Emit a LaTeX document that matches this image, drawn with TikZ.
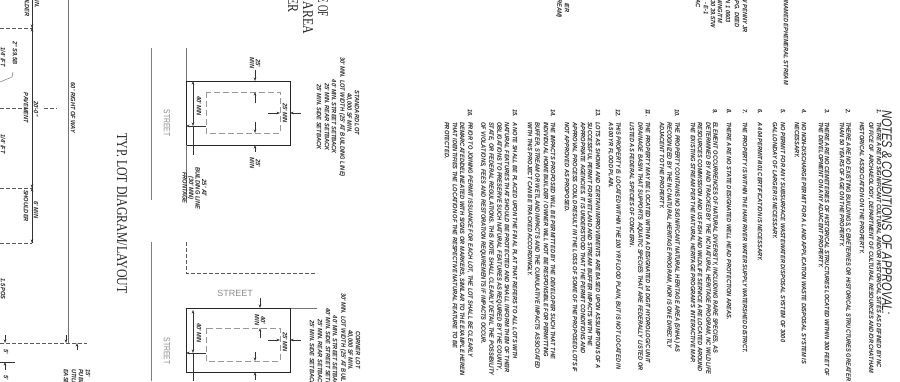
\documentclass[tikz,border=0pt]{standalone}
\usepackage{graphicx}
\usepackage{fontspec}
\setmainfont{Liberation Serif}
\newfontfamily\sansf{Liberation Sans}
\usetikzlibrary{arrows.meta}
\newcommand{\smalltxt}[1]{\scalebox{.9}[1]{\fontsize{6.3}{7.7}\selectfont\sansf\bfseries\itshape #1}}
\newcommand{\nl}[3]{\node[notetext] (#1) at (#2,122) {\smalltxt{#3}};}
\newcommand{\num}[3]{\node[notetext] (#1) at (#2,109) {\smalltxt{#3}};}
\newcommand{\tl}[4]{\node[toptext] (#1) at (#2,#3) {\smalltxt{#4}};}
\newcommand{\cl}[4]{\node[ctext] (#1) at (#2,#3) {\smalltxt{#4}};}
\newcommand{\bigt}[1]{\scalebox{.79}[1]{\fontsize{15}{15}\selectfont #1}}
\tikzset{
 x=1pt,y=-1pt,
 notetext/.style={rotate=-90,anchor=west,inner sep=0pt,text=black!85},
 toptext/.style={rotate=-90,anchor=east,inner sep=0pt,text=black!85},
 ctext/.style={rotate=-90,anchor=center,inner sep=0pt,text=black!85},
 largetext/.style={rotate=-90,inner sep=0pt,text=black!85},
 streettext/.style={inner sep=0pt,text=black!45},
 guide/.style={draw=black!55,line width=.55pt},
 lotline/.style={draw=black!85,line width=.9pt},
 bldg/.style={draw=black!40,line width=.5pt,dash pattern=on 6pt off 3pt},
 cut/.style={draw=black!65,line width=.5pt,dash pattern=on 4pt off 2pt},
 dim/.style={draw=black!80,line width=.45pt,-{Stealth[length=3.5pt,width=2.5pt]}},
}
\begin{document}
\begin{tikzpicture}
\useasboundingbox (0,0) rectangle (900,381);
\clip (0,0) rectangle (900,381);
\fill[white] (0,0) rectangle (900,381);
% ---- top fragments
\tl{t1}{745}{33}{DEED NEW PENNY JR}
\tl{t2}{737}{28}{BOOK 175 PG. DEED}
\tl{t3}{728}{23}{PIN 1 0603}
\tl{t4}{720}{23}{ZONING/TM}
\tl{t5}{713}{28}{N 30 39.57W}
\tl{t6}{706}{15}{- E-1}
\tl{t7}{698}{8}{AC}
\tl{t8}{786}{85}{UNNAMED EPHEMERAL STREAM}
\tl{t9}{567}{13}{IER}
\tl{t10}{559}{18}{TREAM)}
% ---- notes
\node[rotate=-90,anchor=west,inner sep=0pt,text=black!85] (title) at (887,110)
  {\scalebox{.79}[1]{\fontsize{14}{14}\selectfont\sansf\itshape NOTES \& CONDITIONS OF APPROVAL:}};
\num{n1}{879}{1.}
\nl{a1}{879}{THERE ARE NO SIGNIFICANT CULTURAL AND/OR HISTORICAL SITES AS DEFINED BY NC}
\nl{a2}{871}{OFFICE OF ARCHAEOLOGY, DEPARTMENT OF CULTURAL RESOURCES AND/OR CHATHAM}
\nl{a3}{862}{HISTORICAL ASSOCIATION ON THE PROPERTY.}
\num{n2}{848}{2.}
\nl{b1}{848}{THERE ARE NO EXISTING BUILDINGS, CEMETERIES OR HISTORICAL STRUCTURES GREATER}
\nl{b2}{842}{THAN 50 YEARS OF AGE ON THE PROPERTY.}
\num{n3}{827}{3.}
\nl{c1}{827}{THERE ARE NO CEMETERIES OF HISTORICAL STRUCTURES LOCATED WITHIN 300 FEET OF}
\nl{c2}{821}{THE DEVELOPMENT ON ANY ADJACENT PROPERTY.}
\num{n4}{804}{4.}
\nl{d1}{804}{NO NON-DISCHARGE PERMIT FOR A LAND APPLICATION WASTE DISPOSAL SYSTEM IS}
\nl{d2}{797}{NECESSARY.}
\num{n5}{783}{5.}
\nl{e1}{783}{NO PERMIT FOR ANY SUBSURFACE WASTEWATER DISPOSAL SYSTEM OF 3000}
\nl{e2}{775}{GALLON/DAY OF LARGER IS NECESSARY.}
\num{n6}{760}{6.}
\nl{f1}{760}{A 404 PERMIT/401 CERTIFICATION IS NECESSARY.}
\num{n7}{745}{7.}
\nl{g1}{745}{THE PROPERTY IS WITHIN THE HAW RIVER WATER SUPPLY WATERSHED DISTRICT.}
\num{n8}{729}{8.}
\nl{h1b}{729}{THERE ARE NO STATE DESIGNATED WELL HEAD PROTECTION AREAS.}
\num{n9}{715}{9.}
\nl{i1}{715}{ELEMENT OCCURRENCES OF NATURAL DIVERSITY, INCLUDING RARE SPECIES, AS}
\nl{i2}{708}{DETERMINED BY AND TRACKED BY THE NC NATURAL HERITAGE PROGRAM, NC WILDLIFE}
\nl{i3}{700}{RESOURCES COMMISSION AND US FISH AND WILDLIFE SERVICE ARE LOCATED AROUND}
\nl{i4}{693}{THE EXISTING STREAM PER THE NATURAL HERITAGE PROGRAM'S INTERACTIVE MAP.}
\num{n10}{677}{10.}
\nl{j1}{677}{THE PROPERTY CONTAINS NO SIGNIFICANT NATURAL HERITAGE AREA (SNHA) AS}
\nl{j2}{669}{RECOGNIZED BY THE NC NATURAL HERITAGE PROGRAM, NOR IS ONE DIRECTLY}
\nl{j3}{662}{ADJACENT TO THE PROPERTY.}
\num{n11}{648}{11.}
\nl{k1}{648}{THE PROPERTY MAY BE LOCATED WITHIN A DESIGNATED 14 DIGIT HYDROLOGIC UNIT}
\nl{k2}{640}{DRAINAGE BASIN THAT SUPPORTS AQUATIC SPECIES THAT ARE FEDERALLY LISTED OR}
\nl{k3}{632}{LISTED AS FEDERAL SPECIES OF CONCERN.}
\num{n12}{618}{12.}
\nl{l1}{618}{THIS PROPERTY IS LOCATED WITHIN THE 100 YR FLOOD PLAIN, BUT IS NOT LOCATED IN}
\nl{l2}{611}{A 500 YR FLOOD PLAIN.}
\num{n13}{598}{13.}
\nl{m1}{598}{LOTS AS SHOWN AND CERTAIN IMPROVEMENTS ARE BASED UPON ASSUMPTIONS OF A}
\nl{m2}{590}{SUCCESSFUL PERMIT FOR WETLAND AND STREAM BUFFER IMPACTS WITH THE}
\nl{m3}{583}{APPROPRIATE AGENCIES. IT IS UNDERSTOOD THAT THE PERMIT CONDITIONS AND}
\nl{m4}{575}{APPROVAL PROCESS COULD RESULT IN THE LOSS OF SOME OF THE PROPOSED LOTS IF}
\nl{m5}{567}{NOT APPROVED AS PROPOSED.}
\num{n14}{553}{14.}
\nl{o1}{553}{THE IMPACTS PROPOSED WILL BE PERMITTED BY THE DEVELOPER SUCH THAT THE}
\nl{o2}{546}{INDIVIDUAL HOME BUILDER / OWNER WILL NOT BE RESPONSIBLE FOR PERMITTING}
\nl{o3}{537}{BUFFER, STREAM OR WETLAND IMPACTS AND THE CUMULATIVE IMPACTS ASSOCIATED}
\nl{o4}{530}{WITH THIS PROJECT CAN BE TRACKED ACCORDINGLY.}
\num{n15}{515}{15.}
\nl{p1}{515}{A NOTE SHALL BE PLACED UPON THE FINAL PLAT THAT REFERS TO ALL LOTS WITH}
\nl{p2}{507}{NATURAL FEATURES THAT SHOULD BE PROTECTED AND SHALL INFORM THEM OF THEIR}
\nl{p3}{499}{OBLIGATIONS TO PRESERVE SUCH NATURAL FEATURES AS REQUIRED BY THE COUNTY,}
\nl{p4}{491}{STATE, OR FEDERAL REGULATIONS. THIS NOTE SHALL CLEARLY DETAIL THE POSSIBILITY}
\nl{p5}{483}{OF VIOLATIONS, FEES AND RESTORATION REQUIREMENTS IF IMPACTS OCCUR.}
\num{n16}{470}{16.}
\nl{q1}{470}{PRIOR TO JOINING PERMIT ISSUANCE FOR EACH LOT, THE LOT SHALL BE CLEARLY}
\nl{q2}{462}{DEMARCATED/DELINEATED WITH SIGNS OR MARKERS, SIMILAR TO THE EXAMPLE HEREIN}
\nl{q3}{455}{THAT IDENTIFIES THE LOCATION OF THE RESPECTIVE NATURAL FEATURE TO BE}
\nl{q4}{447}{PROTECTED.}
% ---- lot legends
\cl{s1}{357}{113}{STANDARD LOT}
\cl{s2}{349}{113}{40,000 SF MIN.}
\cl{s3}{342}{117}{30' MIN. LOT WIDTH (25' AT BUILDING LINE)}
\cl{s4}{334}{117}{40' MIN. STREET SETBACK}
\cl{s5}{327}{117}{25' MIN. REAR SETBACK}
\cl{s6}{319}{117}{25' MIN. SIDE SETBACK}
\cl{r1}{358}{350}{CORNER LOT}
\cl{r2}{350}{350}{40,000 SF MIN.}
\cl{r3}{343}{353}{30' MIN. LOT WIDTH (25' AT BUILDING LINE)}
\cl{r4}{335}{353}{40' MIN. STREET SETBACK}
\cl{r5}{328}{353}{40' MIN. SIDE STREET SETBACK}
\cl{r6}{320}{353}{25' MIN. REAR SETBACK}
\cl{r7}{312}{353}{25' MIN. SIDE SETBACK}
% ---- large headings
\node[largetext,anchor=east] (h1) at (323,17) {\scalebox{.6}[1]{\fontsize{15}{15}\selectfont ZONE OF}};
\node[largetext,anchor=east] (h2) at (308,34) {\bigt{AREA}};
\node[largetext,anchor=east] (h3) at (293,13) {\bigt{ER}};
\node[largetext,anchor=west] (h4) at (122,133) {\bigt{TYP. LOT DIAGRAM/LAYOUT}};
% ---- street lines
\draw[draw=black!50,line width=.5pt] (151,48) -- (151,200) (151,242) -- (151,381);
\node[streettext,rotate=-90] (st1) at (167,123) {\scalebox{.75}[1]{\fontsize{9}{9}\selectfont\sansf STREET}};
\node[streettext,rotate=-90] (st2) at (167,351) {\scalebox{.75}[1]{\fontsize{9}{9}\selectfont\sansf STREET}};
\node[streettext] (st3) at (235,293) {\fontsize{9}{9}\selectfont\sansf STREET};
% ---- standard lot
\draw[guide] (186,48) -- (186,81);
\draw[lotline] (186,81) rectangle (290,145);
\draw[guide] (186,145) -- (186,200);
\draw[bldg] (206,92) rectangle (280,133);
\coordinate (sa) at (255,70); \coordinate (sb) at (255,81);
\draw[dim] (sa) -- (sb);
\draw[dim] (255,103) -- (255,92);
\draw[dim] (255,122) -- (255,133);
\draw[dim] (255,152) -- (255,145);
\cl{sd1}{258}{63}{25'}\cl{sd2}{252}{63}{MIN}
\cl{sd3}{258}{163}{25'}\cl{sd4}{252}{163}{MIN}
\cl{sd5}{285}{113}{25' MIN}
\draw[dim] (268,113) -- (280,113);
\draw[dim] (301,113) -- (290,113);
\cl{sd6}{199}{106}{40' MIN}
\draw[draw=black!80,line width=.45pt,{Stealth[length=3.5pt,width=2.5pt]}-{Stealth[length=3.5pt,width=2.5pt]}] (193,81) -- (193,126);
\draw[draw=black!80,line width=.45pt] (193,126) -- (193,155);
\draw[dim] (194,126) -- (186,126);
\draw[draw=black!80,line width=.45pt] (194,126) -- (206,126);
\node[ctext] (sd7) at (194,188) {\smalltxt{\begin{tabular}{@{}c@{}}25' AT\\[-1.2pt]BUILDING LINE\\[-1.2pt](30' MIN)\\[-1.2pt]FRONTAGE\end{tabular}}};
% ---- corner lot
\draw[cut] (186,242) -- (186,273) -- (317,273);
\draw[guide] (290,308) -- (317,308);
\draw[lotline] (186,308) rectangle (290,372);
\draw[bldg] (206,328) rectangle (280,361);
\draw[dim] (260,298) -- (260,308);
\draw[dim] (260,338) -- (260,328);
\draw[dim] (255,352) -- (255,361);
\draw[dim] (255,380) -- (255,372);
\cl{cd1}{263}{320}{40'}\cl{cd2}{257}{320}{MIN}
\cl{cd3}{285}{342}{25' MIN}
\draw[dim] (268,340) -- (280,340);
\draw[dim] (301,340) -- (290,340);
\cl{cd4}{199}{333}{40' MIN}
\draw[draw=black!80,line width=.45pt,{Stealth[length=3.5pt,width=2.5pt]}-{Stealth[length=3.5pt,width=2.5pt]}] (193,310) -- (193,353);
\draw[draw=black!80,line width=.45pt] (193,353) -- (193,381);
\draw[dim] (194,353) -- (186,353);
\draw[draw=black!80,line width=.45pt] (194,353) -- (206,353);
% ---- road section
\draw[guide] (68,0) -- (68,343);
\draw[draw=black!80,line width=.5pt] (32,0) -- (32,243);
\draw[cut] (0,28) -- (32,28) (0,188) -- (32,188) (0,243) -- (32,243);
\draw[cut] (0,343) -- (87,343);
\draw[cut] (0,108) -- (30,108) (44,108) -- (57,108);
\draw[dim] (32,22) -- (32,28);
\draw[dim] (32,34) -- (32,28);
\draw[dim] (32,182) -- (32,188);
\draw[dim] (32,194) -- (32,188);
\draw[dim] (32,237) -- (32,243);
\draw[dim] (5,335) -- (5,343);
\draw[dim] (66,335) -- (66,343);
\draw[dim] (77,350) -- (77,343);
\draw[draw=black!80,line width=.45pt] (0,362) -- (15,362);
\draw[dim] (5,370) -- (5,362);
\draw[draw=black!60,line width=.4pt] (13,72) -- (12,77) -- (0,82);
\tl{w1}{37}{8}{40' MIN.}
\tl{w2}{27}{17}{SHOULDER}
\cl{w3}{36}{109}{20'-0''}
\cl{w4}{26}{108}{PAVEMENT}
\cl{w5}{36}{210}{6' MIN}
\cl{w6}{26}{206}{SHOULDER}
\cl{w7}{15}{53}{2'' S9.5B}
\cl{w8}{3}{57}{1/4' /FT}
\cl{w9}{3}{144}{1/4' /FT}
\cl{w10}{3}{289}{1.5 POS}
\cl{w11}{73}{108}{60' RIGHT OF WAY}
\cl{w12}{6}{352}{5'}
\cl{w13}{6}{378}{5'}
\node[notetext] (w14) at (88,369) {\smalltxt{15'}};
\node[notetext] (w15) at (81,369) {\smalltxt{PUBLIC}};
\node[notetext] (w16) at (74,369) {\smalltxt{UTILITY}};
\node[notetext] (w17) at (66,369) {\smalltxt{EASEMENT}};
\end{tikzpicture}
\end{document}
